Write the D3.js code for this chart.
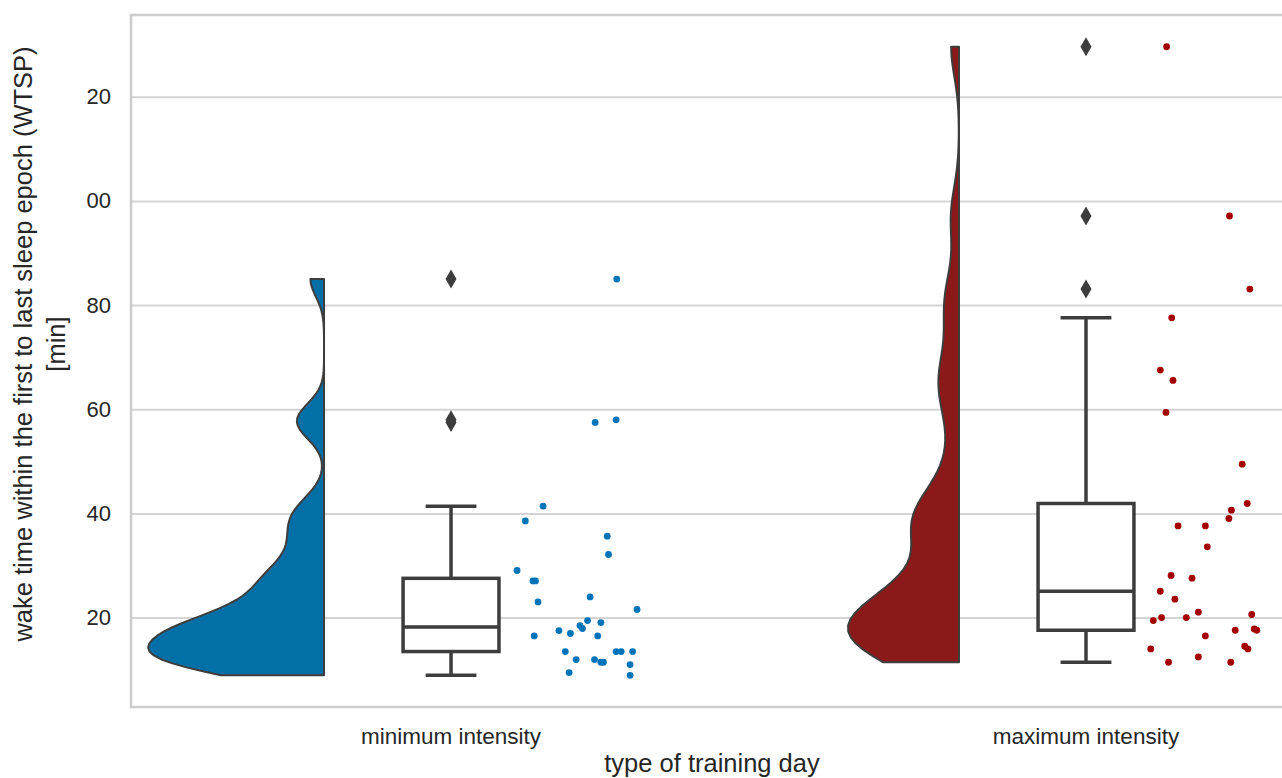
<!DOCTYPE html>
<html>
<head>
<meta charset="utf-8">
<script src="https://cdn.jsdelivr.net/npm/d3@7"></script>
<style>
  body { margin: 0; background: #fff; }
  svg { display: block; font-family: "Liberation Sans", Arial, sans-serif; }
</style>
</head>
<body>
<svg id="chart" width="1282" height="778"></svg>
<script>
// categories on the x axis
const categories = ["minimum intensity", "maximum intensity"];

// WTSP values [min]
const minValues = [85.0, 57.46, 57.96, 41.38, 38.56, 35.62, 32.10, 29.03, 27.03, 27.03,
  23.96, 23.0, 21.54, 19.42, 19.04, 18.46, 17.89, 17.50, 16.93, 16.47, 16.47, 13.47,
  13.47, 13.47, 13.47, 11.93, 11.93, 11.41, 11.41, 10.97, 9.43, 8.91];
// horizontal jitter of each dot (category units, right of the box)
const minJitter = [0.261, 0.227, 0.260, 0.145, 0.117, 0.246, 0.248, 0.104, 0.129, 0.133,
  0.219, 0.137, 0.293, 0.215, 0.236, 0.203, 0.207, 0.170, 0.188, 0.131, 0.231, 0.180,
  0.260, 0.268, 0.286, 0.197, 0.226, 0.236, 0.240, 0.282, 0.186, 0.282];

const maxValues = [129.6, 97.1, 83.07, 77.56, 67.51, 65.53, 59.38, 49.45, 41.90, 40.61,
  39.02, 37.60, 37.60, 33.57, 28.07, 27.55, 25.05, 23.52, 21.02, 20.58, 20.0, 19.42,
  20.0, 16.47, 17.56, 17.80, 17.56, 13.97, 14.49, 13.97, 11.41, 12.43, 11.41];
const maxJitter = [0.127, 0.226, 0.258, 0.135, 0.117, 0.137, 0.126, 0.246, 0.254, 0.229,
  0.225, 0.145, 0.188, 0.191, 0.134, 0.167, 0.117, 0.140, 0.177, 0.261, 0.119, 0.106,
  0.158, 0.188, 0.235, 0.265, 0.269, 0.102, 0.250, 0.255, 0.130, 0.177, 0.228];

const yTicks = [20, 40, 60, 80, 100, 120];

const violinColors = ["#0270a6", "#8c1919"];
const dotColors = ["#0173b8", "#a30000"];
const lineColor = "#3d3d3d";

const svg = d3.select("#chart");

const x = d3.scaleLinear().domain([-0.504, 1.326]).range([131, 1293]);
const y = d3.scaleLinear().domain([2.82, 135.7]).range([707, 15]);

const groups = [
  { name: categories[0], values: minValues, jitter: minJitter },
  { name: categories[1], values: maxValues, jitter: maxJitter }
];

// gaussian kde, bandwidth = bw * std (like scipy with a scalar factor), cut at data range
function kde(values, bw) {
  const h = bw * d3.deviation(values);
  const lo = d3.min(values), hi = d3.max(values);
  const n = 100;
  const pts = [];
  for (let i = 0; i <= n; i++) {
    const v = lo + (hi - lo) * i / n;
    const dens = d3.mean(values, d => Math.exp(-0.5 * ((v - d) / h) ** 2)) / (h * Math.sqrt(2 * Math.PI));
    pts.push([v, dens]);
  }
  return pts;
}

groups.forEach(g => { g.density = kde(g.values, 0.2); });
const maxDens = d3.max(groups, g => d3.max(g.density, d => d[1]));
const w = d3.scaleLinear().domain([0, maxDens]).range([0, 0.277]);

// grid + frame
const yAxis = svg.append("g")
  .attr("transform", "translate(131,0)")
  .call(d3.axisLeft(y).tickValues(yTicks).tickSize(-1162).tickPadding(20));
yAxis.select(".domain").remove();
yAxis.selectAll(".tick line").attr("stroke", "#d4d4d4").attr("stroke-width", 2);
yAxis.selectAll(".tick text")
  .attr("fill", "#262626")
  .style("font-size", "22px")
  .style("font-family", "'Liberation Sans', Arial, sans-serif");

// the left digit of the tick labels is trimmed in the source picture
// (clip rect is in each tick's own coordinates)
svg.append("clipPath").attr("id", "tickclip")
  .append("rect").attr("x", -45.2).attr("y", -20).attr("width", 45.2).attr("height", 40);
yAxis.selectAll(".tick text").attr("clip-path", "url(#tickclip)");

svg.append("path")
  .attr("d", `M${x(1.326)},${y(135.7)}H${x(-0.504)}V${y(2.82)}H${x(1.326)}`)
  .attr("fill", "none")
  .attr("stroke", "#cccccc")
  .attr("stroke-width", 2.5);

// half violins
groups.forEach((g, i) => {
  const edge = i - 0.2;
  const d0 = g.density[0], d1 = g.density[g.density.length - 1];
  const outline = "M" + x(edge) + "," + y(d0[0]) +
    d3.line().x(d => x(edge - w(d[1]))).y(d => y(d[0]))(g.density).replace(/^M/, "L") +
    "L" + x(edge) + "," + y(d1[0]) + "Z";
  svg.append("path")
    .attr("d", outline)
    .attr("fill", violinColors[i])
    .attr("stroke", lineColor)
    .attr("stroke-width", 2)
    .attr("stroke-linejoin", "round");
});

// boxplots
groups.forEach((g, i) => {
  const s = g.values.slice().sort(d3.ascending);
  const q1 = d3.quantileSorted(s, 0.25), med = d3.quantileSorted(s, 0.5), q3 = d3.quantileSorted(s, 0.75);
  const iqr = q3 - q1;
  const lowW = d3.min(s.filter(v => v >= q1 - 1.5 * iqr));
  const highW = d3.max(s.filter(v => v <= q3 + 1.5 * iqr));
  const out = s.filter(v => v < lowW || v > highW);
  const bx = svg.append("g").attr("stroke", lineColor).attr("stroke-width", 3.5);
  bx.append("line").attr("x1", x(i)).attr("x2", x(i)).attr("y1", y(q3)).attr("y2", y(highW));
  bx.append("line").attr("x1", x(i)).attr("x2", x(i)).attr("y1", y(q1)).attr("y2", y(lowW));
  bx.append("line").attr("x1", x(i - 0.04)).attr("x2", x(i + 0.04)).attr("y1", y(highW)).attr("y2", y(highW));
  bx.append("line").attr("x1", x(i - 0.04)).attr("x2", x(i + 0.04)).attr("y1", y(lowW)).attr("y2", y(lowW));
  bx.append("rect")
    .attr("x", x(i - 0.0755)).attr("width", x(i + 0.0755) - x(i - 0.0755))
    .attr("y", y(q3)).attr("height", y(q1) - y(q3))
    .attr("fill", "#fff");
  bx.append("line").attr("x1", x(i - 0.0755)).attr("x2", x(i + 0.0755)).attr("y1", y(med)).attr("y2", y(med));
  svg.append("g").selectAll("path")
    .data(out)
    .join("path")
    .attr("transform", d => `translate(${x(i)},${y(d)})`)
    .attr("d", "M0,-9.5L5.5,0L0,9.5L-5.5,0Z")
    .attr("fill", lineColor);
});

// strip points
groups.forEach((g, i) => {
  svg.append("g").selectAll("circle")
    .data(g.values)
    .join("circle")
    .attr("cx", (d, k) => x(i + g.jitter[k]))
    .attr("cy", d => y(d))
    .attr("r", 3.4)
    .attr("fill", dotColors[i]);
});

// x tick labels
svg.append("g").selectAll("text")
  .data(categories)
  .join("text")
  .attr("x", (d, i) => x(i))
  .attr("y", 744)
  .attr("text-anchor", "middle")
  .attr("fill", "#262626")
  .style("font-size", "22.5px")
  .text(d => d);

// axis labels
svg.append("text")
  .attr("x", 712)
  .attr("y", 772)
  .attr("text-anchor", "middle")
  .attr("fill", "#262626")
  .style("font-size", "25.5px")
  .text("type of training day");

const yl = svg.append("text")
  .attr("transform", "translate(0,344) rotate(-90)")
  .attr("text-anchor", "middle")
  .attr("fill", "#262626")
  .style("font-size", "25.5px");
yl.append("tspan").attr("x", 0).attr("y", 32).text("wake time within the first to last sleep epoch (WTSP)");
yl.append("tspan").attr("x", 0).attr("y", 65).text("[min]");
</script>
</body>
</html>
